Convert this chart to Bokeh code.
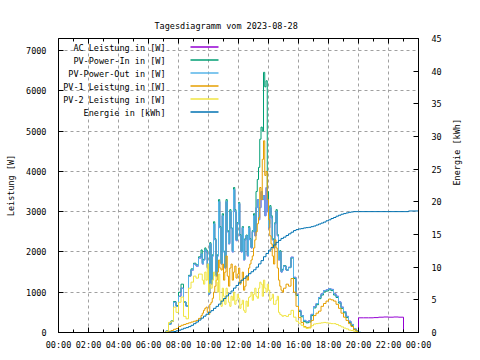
import math
from bokeh.plotting import figure
from bokeh.models import LinearAxis, Range1d, FixedTicker, Label, Arrow, Grid
from bokeh.embed import file_html
from bokeh.resources import INLINE

# ---------------- data ----------------
title_text = "Tagesdiagramm vom 2023-08-28"
x_tick_hours = [0, 2, 4, 6, 8, 10, 12, 14, 16, 18, 20, 22, 24]
x_tick_labels = ["00:00", "02:00", "04:00", "06:00", "08:00", "10:00", "12:00",
                 "14:00", "16:00", "18:00", "20:00", "22:00", "00:00"]
x_minor_hours = [1, 3, 5, 7, 9, 11, 13, 15, 17, 19, 21, 23]
w_ticks = [0, 1000, 2000, 3000, 4000, 5000, 6000, 7000]
kwh_ticks = [0, 5, 10, 15, 20, 25, 30, 35, 40, 45]
w_max = 7300
kwh_max = 45

labels = ["AC Leistung in [W]", "PV-Power-In in [W]", "PV-Power-Out in [W]",
          "PV-1 Leistung in [W]", "PV-2 Leistung in [W]", "Energie in [kWh]"]
colors = ["#9400d3", "#009e73", "#56b4e9", "#e69f00", "#f0e442", "#0072b2"]

# main samples (minutes after midnight), 06:50 .. 20:10 every 10 min
day_minutes = list(range(410, 1220, 10))
# extra samples in the busy midday part, 09:35 .. 14:55 every 10 min
mid_minutes = list(range(575, 900, 10))

pv_out = [0, 0, 40, 200, 280, 750, 650, 900, 1100, 750,
          650, 1400, 1550, 1700, 1650, 1850, 1950, 1800, 2000, 950,
          1200, 2700, 1400, 3250, 1700, 2000, 3250, 2200, 2580, 3550,
          2280, 3200, 2000, 1800, 2400, 2600, 2100, 2900, 3100, 2800,
          3500, 3400, 3600, 2600, 2850, 2100, 3000, 1800, 1500, 1650,
          1550, 1620, 1870, 1370, 950, 550, 420, 300, 270, 290,
          450, 640, 720, 870, 960, 1040, 1060, 1090, 1070, 960,
          900, 760, 630, 520, 400, 280, 200, 100, 50, 10, 0]
pv_out_mid = [1700, 2050, 1600, 2200, 1900, 2300, 1900, 2600, 2900, 1600,
              2500, 3000, 2000, 3000, 2700, 2400, 2600, 2300, 1900, 2300,
              2500, 2400, 3300, 3100, 3300, 2900, 3000, 3100, 2300, 2700,
              2400, 2000, 1550]

pv_in = [0, 0, 40, 210, 290, 770, 670, 1000, 1200, 760,
         660, 1420, 1580, 1720, 1680, 1880, 2050, 1820, 2050, 960,
         1220, 2750, 1420, 3300, 1720, 2020, 3300, 2230, 2600, 3600,
         2300, 3230, 2020, 1820, 2420, 2630, 2120, 2950, 3500, 4100,
         5100, 6460, 6250, 2700, 2900, 2130, 3050, 1820, 1520, 1660,
         1550, 1610, 1850, 1340, 920, 520, 390, 270, 240, 260,
         420, 610, 690, 840, 930, 1010, 1030, 1060, 1040, 930,
         870, 730, 600, 490, 370, 250, 170, 80, 30, 0, 0]
pv_in_mid = [1730, 2100, 1630, 2230, 1930, 2330, 1930, 2630, 2950, 1630,
             2530, 3050, 2030, 3050, 2730, 2430, 2630, 2330, 1930, 2330,
             2530, 2500, 3800, 4800, 5000, 6100, 3500, 3150, 2330, 2730,
             2430, 2030, 1570]

pv1 = [0, 0, 10, 30, 50, 80, 100, 150, 180, 200,
       220, 240, 260, 280, 300, 350, 420, 550, 630, 450,
       750, 1000, 1300, 1800, 1550, 1300, 1900, 1150, 1700, 1500,
       1350, 1600, 1300, 1050, 1400, 1600, 1800, 2100, 2500, 2850,
       3300, 4760, 4000, 2800, 2200, 1700, 2100, 1300, 1050, 1100,
       1200, 1150, 1340, 1000, 650, 370, 250, 150, 120, 130,
       300, 420, 480, 530, 650, 720, 780, 830, 810, 780,
       700, 600, 480, 380, 300, 220, 150, 70, 30, 0, 0]
pv1_mid = [480, 600, 500, 700, 850, 1150, 1500, 1600, 1700, 1500,
           1400, 1600, 1300, 1650, 1450, 1200, 1500, 1150, 1300, 1700,
           1900, 2300, 2700, 3600, 4300, 3900, 3300, 2400, 1900, 2300,
           1600, 1150, 1000]

pv2 = [0, 0, 30, 250, 280, 630, 500, 750, 880, 400,
       340, 1100, 1250, 1400, 1350, 1450, 1450, 1200, 1300, 1000,
       1100, 1500, 1250, 1450, 650, 900, 1100, 750, 900, 1000,
       800, 850, 700, 550, 780, 870, 1000, 950, 900, 1100,
       1200, 1300, 1000, 1050, 850, 700, 800, 500, 430, 420,
       400, 450, 550, 380, 280, 230, 180, 130, 100, 110,
       170, 210, 220, 230, 240, 250, 240, 230, 220, 220,
       200, 170, 140, 110, 90, 60, 50, 30, 10, 0, 0]
pv2_mid = [1300, 1500, 1700, 1200, 1300, 1400, 1000, 800, 1100, 700,
           950, 650, 800, 700, 950, 600, 800, 500, 650, 900,
           800, 1100, 850, 1250, 900, 1100, 1200, 800, 950, 700,
           900, 450, 400]

# AC output: daytime 06:50..19:50 and evening 20:00..23:00 (every 20 min)
ac_day = [0, 0, 40, 200, 280, 750, 650, 900, 1100, 750,
          650, 1400, 1550, 1700, 1650, 1850, 1950, 1800, 2000, 950,
          1200, 2700, 1400, 3250, 1700, 2000, 3250, 2200, 2580, 3550,
          2280, 3200, 2000, 1800, 2400, 2600, 2100, 2900, 3100, 2800,
          3500, 3400, 3600, 2600, 2850, 2100, 3000, 1800, 1500, 1650,
          1550, 1620, 1870, 1370, 950, 550, 420, 300, 270, 290,
          450, 640, 720, 870, 960, 1040, 1060, 1090, 1070, 960,
          900, 760, 630, 520, 400, 280, 200, 100, 50]
ac_mid = [1700, 2050, 1600, 2200, 1900, 2300, 1900, 2600, 2900, 1600,
          2500, 3000, 2000, 3000, 2700, 2400, 2600, 2300, 1900, 2300,
          2500, 2400, 3300, 3100, 3300, 2900, 3000, 3100, 2300, 2700,
          2400, 2000, 1550]
ac_evening_minutes = [1200, 1220, 1240, 1260, 1280, 1300, 1320, 1340, 1360, 1380]
ac_evening = [365, 365, 365, 370, 380, 385, 380, 385, 380, 0]

energy = [0, 0, 0, 0.05, 0.1, 0.15, 0.25, 0.35, 0.5, 0.65,
          0.75, 0.9, 1.1, 1.35, 1.6, 1.9, 2.2, 2.5, 2.8, 3.1,
          3.35, 3.7, 4.0, 4.35, 4.8, 5.2, 5.6, 5.95, 6.35, 6.8,
          7.2, 7.6, 8.0, 8.3, 8.65, 9.0, 9.3, 9.6, 10.0, 10.5,
          11.0, 11.6, 12.1, 12.6, 13.0, 13.4, 13.8, 14.1, 14.4, 14.6,
          14.85, 15.1, 15.35, 15.6, 15.75, 15.85, 15.9, 16.0, 16.05, 16.1,
          16.2, 16.3, 16.45, 16.6, 16.75, 16.9, 17.1, 17.25, 17.45, 17.6,
          17.8, 17.95, 18.1, 18.2, 18.3, 18.4, 18.45, 18.5, 18.5, 18.5, 18.5]
energy_late_minutes = [1400, 1440]
energy_late = [18.6, 18.6]

# ---------------- build ----------------
FONT = "DejaVu Sans Mono"
FS = "8.5px"
FRAME_W, FRAME_H = 360, 294


def merge(mins_a, vals_a, mins_b, vals_b):
    pairs = sorted(list(zip(mins_a, vals_a)) + list(zip(mins_b, vals_b)))
    return [m / 60 for m, _ in pairs], [v for _, v in pairs]


p = figure(frame_width=FRAME_W, frame_height=FRAME_H,
           x_range=Range1d(0, 24), y_range=Range1d(0, w_max),
           output_backend="svg", toolbar_location=None,
           min_border_left=58, min_border_right=54,
           min_border_top=38, min_border_bottom=20,
           x_axis_type=None, y_axis_type=None)
p.extra_y_ranges = {"kwh": Range1d(0, kwh_max)}
p.outline_line_color = "black"
p.outline_line_width = 1
p.background_fill_color = "white"
p.border_fill_color = "white"

p.title.text = title_text
p.title.align = "left"
p.title.offset = 96
p.title.text_font = FONT
p.title.text_font_size = FS
p.title.text_font_style = "normal"
p.title.text_color = "black"
p.title.standoff = 16


def style_axis(ax, standoff):
    ax.major_label_text_font = FONT
    ax.major_label_text_font_size = FS
    ax.major_label_text_color = "black"
    ax.axis_label_text_font = FONT
    ax.axis_label_text_font_size = FS
    ax.axis_label_text_font_style = "normal"
    ax.axis_label_text_color = "black"
    ax.major_tick_in = 5
    ax.major_tick_out = 0
    ax.minor_tick_in = 3
    ax.minor_tick_out = 0
    ax.major_label_standoff = standoff
    ax.axis_line_color = "black"
    ax.major_tick_line_color = "black"
    ax.minor_tick_line_color = "black"


xb = LinearAxis(ticker=FixedTicker(ticks=x_tick_hours, minor_ticks=x_minor_hours))
xb.major_label_overrides = {h: l for h, l in zip(x_tick_hours, x_tick_labels)}
style_axis(xb, 7)
p.add_layout(xb, "below")

yl = LinearAxis(ticker=FixedTicker(ticks=w_ticks, minor_ticks=[]), axis_label="Leistung [W]")
style_axis(yl, 12)
yl.axis_label_standoff = 7
p.add_layout(yl, "left")

yr = LinearAxis(y_range_name="kwh", ticker=FixedTicker(ticks=kwh_ticks, minor_ticks=[]),
                axis_label="Energie [kWh]")
style_axis(yr, 13)
yr.axis_label_standoff = 12
yr.axis_label_orientation = math.pi / 2
p.add_layout(yr, "right")

gx = Grid(dimension=0, ticker=FixedTicker(ticks=x_tick_hours))
gy = Grid(dimension=1, ticker=FixedTicker(ticks=w_ticks))
for g in (gx, gy):
    g.grid_line_color = "#a0a0a0"
    g.grid_line_dash = "3 3"
    g.grid_line_width = 1
    p.add_layout(g)

# mirrored x ticks along the top border (inward)
px_per_w = w_max / FRAME_H
top_major = [w_max - 5 * px_per_w] * len(x_tick_hours)
top_minor = [w_max - 3 * px_per_w] * len(x_minor_hours)
p.segment(x_tick_hours, [w_max] * len(x_tick_hours), x_tick_hours, top_major,
          line_color="black", line_width=1)
p.segment(x_minor_hours, [w_max] * len(x_minor_hours), x_minor_hours, top_minor,
          line_color="black", line_width=1)

# series, in gnuplot drawing order
ac_x, ac_y = merge(day_minutes[:len(ac_day)], ac_day, mid_minutes, ac_mid)
ac_x = [0.0] + ac_x + [m / 60 for m in ac_evening_minutes] + [24.0]
ac_y = [0] + ac_y + ac_evening + [0]
p.step(ac_x, ac_y, mode="after", line_color=colors[0], line_width=1)

x_in, y_in = merge(day_minutes, pv_in, mid_minutes, pv_in_mid)
p.step(x_in, y_in, mode="after", line_color=colors[1], line_width=1)

x_out, y_out = merge(day_minutes, pv_out, mid_minutes, pv_out_mid)
p.step([0.0] + x_out + [24.0], [0] + y_out + [0], mode="after", line_color=colors[2], line_width=1)

x1, y1 = merge(day_minutes, pv1, mid_minutes, pv1_mid)
p.step(x1, y1, mode="after", line_color=colors[3], line_width=1)

x2, y2 = merge(day_minutes, pv2, mid_minutes, pv2_mid)
p.step(x2, y2, mode="after", line_color=colors[4], line_width=1)

en_x = [0.0] + [m / 60 for m in day_minutes] + [m / 60 for m in energy_late_minutes]
en_y = [0] + energy + energy_late
p.step(en_x, en_y, mode="after", line_color=colors[5], line_width=1, y_range_name="kwh")

# gnuplot-style key: text right-aligned, sample line to the right
row_y0 = 285
row_dy = 13
for i, (lab, col) in enumerate(zip(labels, colors)):
    yy = row_y0 - i * row_dy
    p.add_layout(Label(x=107, y=yy, x_units="screen", y_units="screen", text=lab,
                       text_align="right", text_baseline="middle",
                       text_font=FONT, text_font_size=FS, text_color="black"))
    p.add_layout(Arrow(start=None, end=None, x_start=132, y_start=yy + 0.5,
                       x_end=160, y_end=yy + 0.5,
                       start_units="screen", end_units="screen",
                       line_color=col, line_width=1.5))

open("out.html", "w").write(file_html(p, INLINE))
